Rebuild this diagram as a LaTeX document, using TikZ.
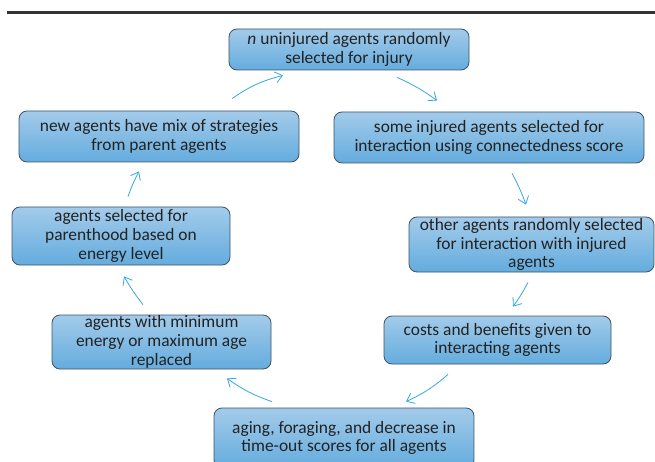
\documentclass[tikz,border=0pt]{standalone}
\usepackage{fontspec}
\setmainfont{Carlito}
\usepackage{tikz}
\usetikzlibrary{arrows.meta}
\usetikzlibrary{positioning}
\tikzset{>={Straight Barb[length=7pt,width=11pt]}}
\definecolor{boxtop}{HTML}{A3CBEA}
\definecolor{boxbot}{HTML}{64ACDE}
\definecolor{boxline}{HTML}{3E5366}
\definecolor{flowblue}{HTML}{35A8E0}
\definecolor{txtgray}{HTML}{222222}
\tikzset{stepbox/.style={draw=boxline, line width=0.8pt, rounded corners=8pt,
    top color=boxtop, bottom color=boxbot, align=center, text=txtgray,
    font=\fontsize{17.4}{18.8}\selectfont, inner sep=0pt},
  flow/.style={->, draw=flowblue, line width=0.8pt}}

\begin{document}
\begin{tikzpicture}[x=1pt,y=-1pt]
\clip (0,0) rectangle (655,462);
\draw [line width=3pt, black!80] (7,13) -- (655,13);
% the cycle, clockwise from the top
\node [stepbox, minimum width=240pt, minimum height=41pt] (injury) at (349,49.5) {\textit{n} uninjured agents randomly\\ selected for injury};
\node [stepbox, minimum width=310pt, minimum height=51pt] (select) at (489,137.5) {some injured agents selected for\\ interaction using connectedness score};
\node [stepbox, minimum width=245pt, minimum height=55pt] (others) at (531.5,244.5) {other agents randomly selected\\ for interaction with injured\\ agents};
\node [stepbox, minimum width=227pt, minimum height=48pt] (costs) at (497.5,340) {costs and benefits given to\\ interacting agents};
\node [stepbox, minimum width=260pt, minimum height=60pt] (aging) at (344,438) {aging, foraging, and decrease in\\ time-out scores for all agents};
\node [stepbox, minimum width=219pt, minimum height=54pt] (replace) at (161.5,342) {agents with minimum\\ energy or maximum age\\ replaced};
\node [stepbox, minimum width=218pt, minimum height=58pt] (parents) at (121,236) {agents selected for\\ parenthood based on\\ energy level};
\node [stepbox, minimum width=280pt, minimum height=51pt] (newagents) at (159,136.5) {new agents have mix of strategies\\ from parent agents};
% arrows
\draw [flow] ([shift={(48,7)}]injury.south) to [bend left=6] ([shift={(-52,-11)}]select.north);
\draw [flow] ([shift={(23,10)}]select.south) to [bend left=4] ([shift={(-5.5,-12)}]others.north);
\draw [flow] ([shift={(-3.5,10)}]others.south) to [bend left=4] ([shift={(15.5,-9)}]costs.north);
\draw [flow] ([shift={(-49.5,10)}]costs.south) to [bend left=8] ([shift={(62,-6)}]aging.north);
\draw [flow] ([shift={(-72,-6)}]aging.north) to [bend left=8] ([shift={(65.5,9)}]replace.south);
\draw [flow] ([shift={(-18.5,-10)}]replace.north) to [bend left=4] ([shift={(3,11)}]parents.south);
\draw [flow] ([shift={(7,-10)}]parents.north) to [bend left=4] ([shift={(-20,9)}]newagents.south);
\draw [flow] ([shift={(73,-12)}]newagents.north) to [bend left=10] ([shift={(-66,5)}]injury.south);
\end{tikzpicture}
\end{document}
